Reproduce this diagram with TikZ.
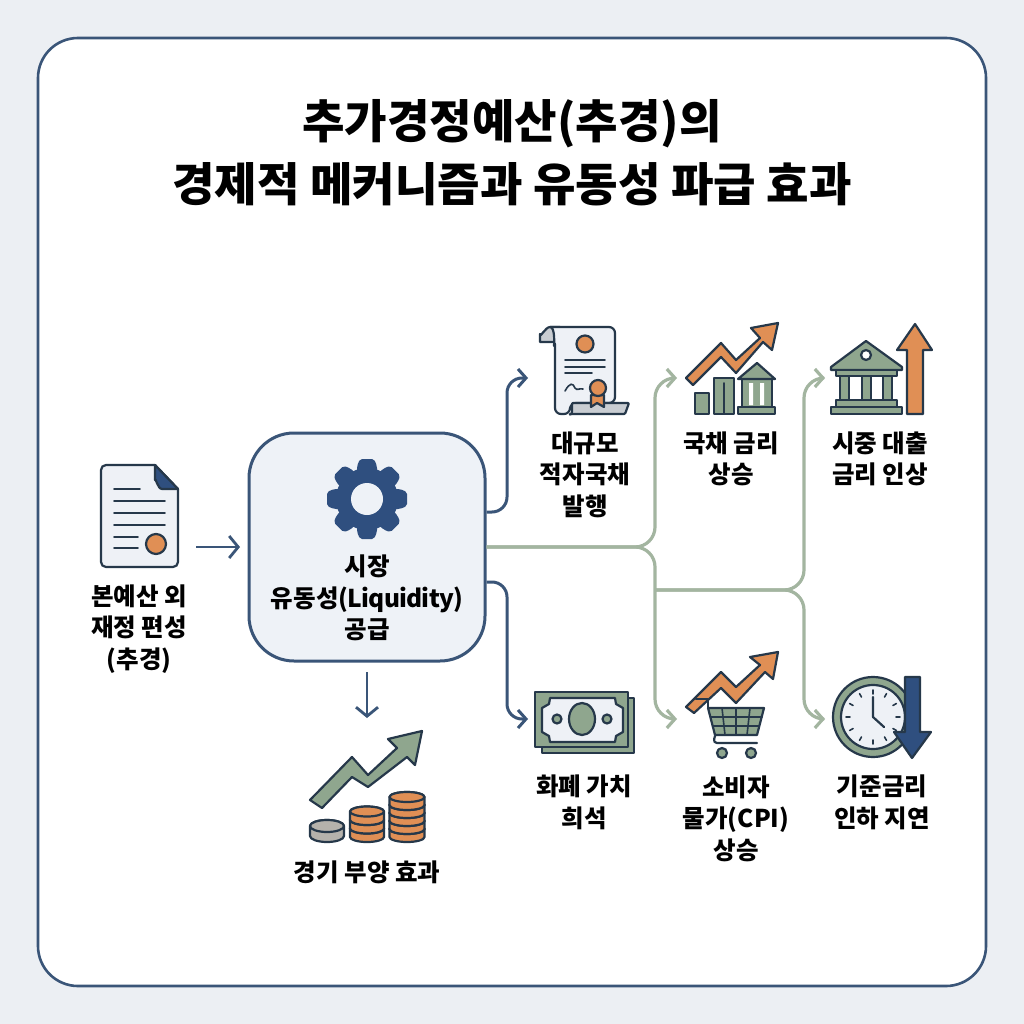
\documentclass[tikz,border=0pt]{standalone}
\usepackage{fontspec}
\setmainfont{Noto Sans CJK KR}
\usetikzlibrary{arrows.meta,calc}
\definecolor{pagebg}{HTML}{ECEFF3}
\definecolor{frameblue}{HTML}{3A5578}
\definecolor{hubfill}{HTML}{EEF2F7}
\definecolor{inkdark}{HTML}{26384A}
\definecolor{gearblue}{HTML}{2F4F7F}
\definecolor{leaf}{HTML}{8FA68E}
\definecolor{leafline}{HTML}{A3B5A0}
\definecolor{carrot}{HTML}{E08F55}
\definecolor{paper}{HTML}{EEF1F6}
\definecolor{stone}{HTML}{B5B2AC}
\definecolor{slategrey}{HTML}{C9CDD2}
\newcommand\coinstack[7]{% x, bottom y, layers, rx, ry, h, colour
  \foreach \i in {1,...,#3}{
    \pgfmathsetmacro\yy{#2-#5-(\i-1)*#6}
    \draw[icon,fill=#7] (#1-#4,\yy) arc[start angle=180,end angle=360,x radius=#4pt,y radius=#5pt]
      -- (#1+#4,\yy-#6) arc[start angle=0,end angle=180,x radius=#4pt,y radius=#5pt] -- cycle;
    \draw[icon,fill=#7] (#1,\yy-#6) ellipse[x radius=#4pt,y radius=#5pt];
  }}
\tikzset{
  icon/.style={draw=inkdark,line width=2.2pt,line join=round},
  thin icon/.style={draw=inkdark,line width=1.6pt,line cap=round},
  lbl/.style={font=\bfseries\fontsize{24.5}{31.5}\selectfont,align=center,text=black,inner sep=0pt},
  bluelink/.style={draw=frameblue,line width=3pt,rounded corners=15pt,-{Straight Barb[length=8pt,width=18pt,line width=3pt]}},
  greenlink/.style={draw=leafline,line width=3.2pt,rounded corners=20pt,-{Straight Barb[length=8pt,width=18pt,line width=3.2pt]}},
  straightlink/.style={draw=frameblue,line width=2.8pt,-{Straight Barb[length=9pt,width=22pt,line width=2.8pt]}}
}
\begin{document}
\begin{tikzpicture}[x=1pt,y=-1pt]
\useasboundingbox (0,0) rectangle (1024,1024);
\fill[pagebg] (0,0) rectangle (1024,1024);
\draw[frameblue,line width=2.6pt,fill=white,rounded corners=40pt] (38,38) rectangle (986,986);
% title
\node[font=\bfseries\fontsize{46.2}{63}\selectfont,align=center,inner sep=0pt] (title) at (512,153) {추가경정예산(추경)의\\경제적 메커니즘과 유동성 파급 효과};
% hub
\node[draw=frameblue,line width=3pt,fill=hubfill,rounded corners=45pt,minimum width=236pt,minimum height=228pt,inner sep=0pt] (hub) at (367,547) {};
\foreach \a in {0,45,...,315}{
  \fill[gearblue,rounded corners=2pt,rotate around={\a:(367,499)}] (357,466) -- (360,459) -- (374,459) -- (377,466) -- (377,480) -- (357,480) -- cycle;
}
\fill[gearblue] (367,499) circle[radius=31pt];
\fill[hubfill] (367,499) circle[radius=16pt];
\node[lbl] (hubtext) at (367,598) {시장\\유동성{\addfontfeature{LetterSpace=-3}(Liquidity)}\\공급};
% document icon
\draw[icon,fill=paper,rounded corners=5pt] (155,465) -- (101,465) -- (101,567) -- (178,567) -- (178,489);
\draw[icon,fill=paper] (155,465) -- (178,489);
\draw[icon,fill=gearblue] (155,465) -- (178,489) -- (162,489) to[out=180,in=90] (155,480) -- cycle;
\foreach \yy/\xx in {489/140,501/165,513/165,525/165,537/138,548/138}{\draw[thin icon] (114,\yy) -- (\xx,\yy);}
\draw[icon,fill=carrot] (156,544) circle[radius=10pt];
\node[lbl] (srclabel) at (139,629) {본예산 외\\재정 편성\\(추경)};
\coordinate (srcout) at (196,547);
\draw[straightlink] (srcout) -- (240,547);
% stimulus icon
\coordinate (stimtop) at (367,718);
\draw[straightlink] (hub.south |- 0,672) -- (stimtop);
\draw[icon,fill=leaf] (310,800) -- (352,757) -- (368,775) -- (397,748) -- (388,739) -- (422,731) -- (415,765) -- (407,757) -- (368,787) -- (352,777) -- (322,808) -- cycle;
\coinstack{327}{842}{1}{17}{6}{10}{stone}
\coinstack{367}{842}{3}{17}{5}{8.5}{carrot}
\coinstack{407}{842}{5}{17.5}{5}{8}{carrot}
\node[lbl] (stimlabel) at (367,872) {경기 부양 효과};
% blue links
\coordinate (bondin) at (528,378);
\coordinate (cashin) at (528,719);
\draw[bluelink] (hub.east |- 0,512) -- (507,512) -- (507,378) -- (bondin);
\draw[bluelink] (hub.east |- 0,582) -- (507,582) -- (507,719) -- (cashin);
% green links
\coordinate (jA) at (655,547);
\coordinate (jB) at (804,590);
\coordinate (yieldin) at (677,378);
\coordinate (cpiin) at (677,719);
\coordinate (loanin) at (825,378);
\coordinate (ratein) at (825,719);
\draw[greenlink] (hub.east) -- (jA) -- (655,378) -- (yieldin);
\draw[greenlink] (hub.east) -- (jA) -- (655,719) -- (cpiin);
\draw[greenlink] (655,590) -- (jB) -- (804,378) -- (loanin);
\draw[greenlink] (655,590) -- (jB) -- (804,719) -- (ratein);
% scroll icon
\draw[icon,fill=slategrey] (555,342) -- (540,342) -- (540,334) to[out=-90,in=180] (550,327) -- (560,327) -- cycle;
\draw[icon,fill=paper,rounded corners=6pt] (550,327) -- (615,327) -- (615,403) -- (570,403) -- (570,414) -- (555,414) -- (555,340) to[out=-100,in=0] (550,327);
\draw[icon,fill=slategrey,rounded corners=1pt] (569,414) to[out=-30,in=-90] (572,403) -- (629,403) -- (625,414) -- cycle;
\draw[icon,fill=carrot] (585,344) circle[radius=8.5pt];
\draw[thin icon] (565,360) -- (605,360) (565,367) -- (605,367) (565,373) -- (592,373);
\draw[thin icon] (565,391) .. controls (570,382) and (573,383) .. (575,388) .. controls (577,391) and (579,388) .. (583,389);
\draw[icon,fill=carrot] (591,395) -- (591,407) -- (597,403) -- (604,407) -- (604,395) -- cycle;
\draw[icon,fill=carrot] (598,388) circle[radius=8pt];
\node[lbl] (bondlabel) at (585,474.5) {대규모\\적자국채\\발행};
% yield icon
\draw[icon,fill=leaf] (695,393) rectangle (709,414);
\draw[icon,fill=leaf] (714,378) rectangle (734,414);
\draw[thin icon] (724,383) -- (724,414);
\draw[icon,fill=leaf] (742,379) rectangle (772,407);
\fill[white] (749,383) rectangle (753,405) (760,383) rectangle (764,405);
\draw[icon,fill=leaf] (738,379) -- (757,363) -- (775,379) -- cycle;
\draw[icon,fill=leaf] (738,407) rectangle (775,414);
\draw[icon,fill=carrot] (686,378) -- (721,343) -- (736,360) -- (760,338) -- (751,328) -- (778,323) -- (772,350) -- (763,342) -- (736,373) -- (721,357) -- (693,385) -- cycle;
\node[lbl] (yieldlabel) at (731,459) {국채 금리\\상승};
% loan icon
\draw[icon,fill=carrot] (907,414) -- (907,350) -- (897,350) -- (915,324) -- (932,350) -- (923,350) -- (923,414) -- cycle;
\draw[icon,fill=leaf] (831,367) -- (866,341) -- (902,367) -- (902,370) -- (831,370) -- cycle;
\draw[icon,fill=white] (866,355) circle[radius=5pt];
\draw[icon,fill=leaf] (836,370) rectangle (897,376);
\foreach \xx in {840,862,883}{\draw[icon,fill=leaf] (\xx,376) rectangle (\xx+9,400);}
\draw[icon,fill=leaf] (836,400) rectangle (897,407);
\draw[icon,fill=leaf] (831,407) rectangle (902,414);
\node[lbl] (loanlabel) at (880,459) {시중 대출\\금리 인상};
% cash icon
\draw[icon,fill=leaf] (542,698) rectangle (634,753);
\draw[icon,fill=leaf] (535,692) rectangle (628,747);
\draw[icon,fill=paper] (550,698) -- (615,698) -- (616,704) -- (623,708) -- (623,732) -- (616,736) -- (615,742) -- (550,742) -- (549,736) -- (542,732) -- (542,708) -- (549,704) -- cycle;
\draw[icon,fill=leaf] (582,719) ellipse[x radius=13pt,y radius=16pt];
\draw[icon,fill=leaf] (557,719) circle[radius=4.5pt];
\draw[icon,fill=leaf] (607,719) circle[radius=4.5pt];
\node[lbl] (cashlabel) at (584,802.5) {화폐 가치\\희석};
% cart icon
\draw[icon,fill=leaf] (708,708) -- (764,708) -- (757,735) -- (715,735) -- cycle;
\draw[thin icon] (722,708) -- (725,735) (736,708) -- (736,735) (750,708) -- (747,735) (711,717) -- (762,717) (713,726) -- (759,726);
\draw[icon,fill=carrot] (686,707) -- (721,672) -- (736,687) -- (760,665) -- (750,657) -- (778,652) -- (773,679) -- (765,672) -- (736,703) -- (721,688) -- (694,713) -- cycle;
\draw[icon,line cap=round] (696,699) -- (708,699) -- (708,708);
\draw[icon,rounded corners=4pt,line cap=round] (715,736) -- (713,743) -- (757,743);
\draw[icon,fill=leaf] (722,753) circle[radius=5pt];
\draw[icon,fill=leaf] (751,753) circle[radius=5pt];
\node[lbl] (cpilabel) at (736,818.5) {소비자\\물가(CPI)\\상승};
% clock icon
\draw[icon,fill=leaf] (873,717) circle[radius=40pt];
\draw[icon,fill=paper] (873,717) circle[radius=32pt];
\foreach \a in {0,30,...,330}{\draw[thin icon,rotate around={\a:(873,717)}] (873,690) -- (873,694);}
\draw[icon,line cap=round] (873,697) -- (873,717) -- (884,727);
\draw[icon,fill=gearblue] (905,677) -- (920,677) -- (920,732) -- (931,732) -- (912,758) -- (894,732) -- (905,732) -- cycle;
\node[lbl] (ratelabel) at (882,802.5) {기준금리\\인하 지연};
\end{tikzpicture}
\end{document}
